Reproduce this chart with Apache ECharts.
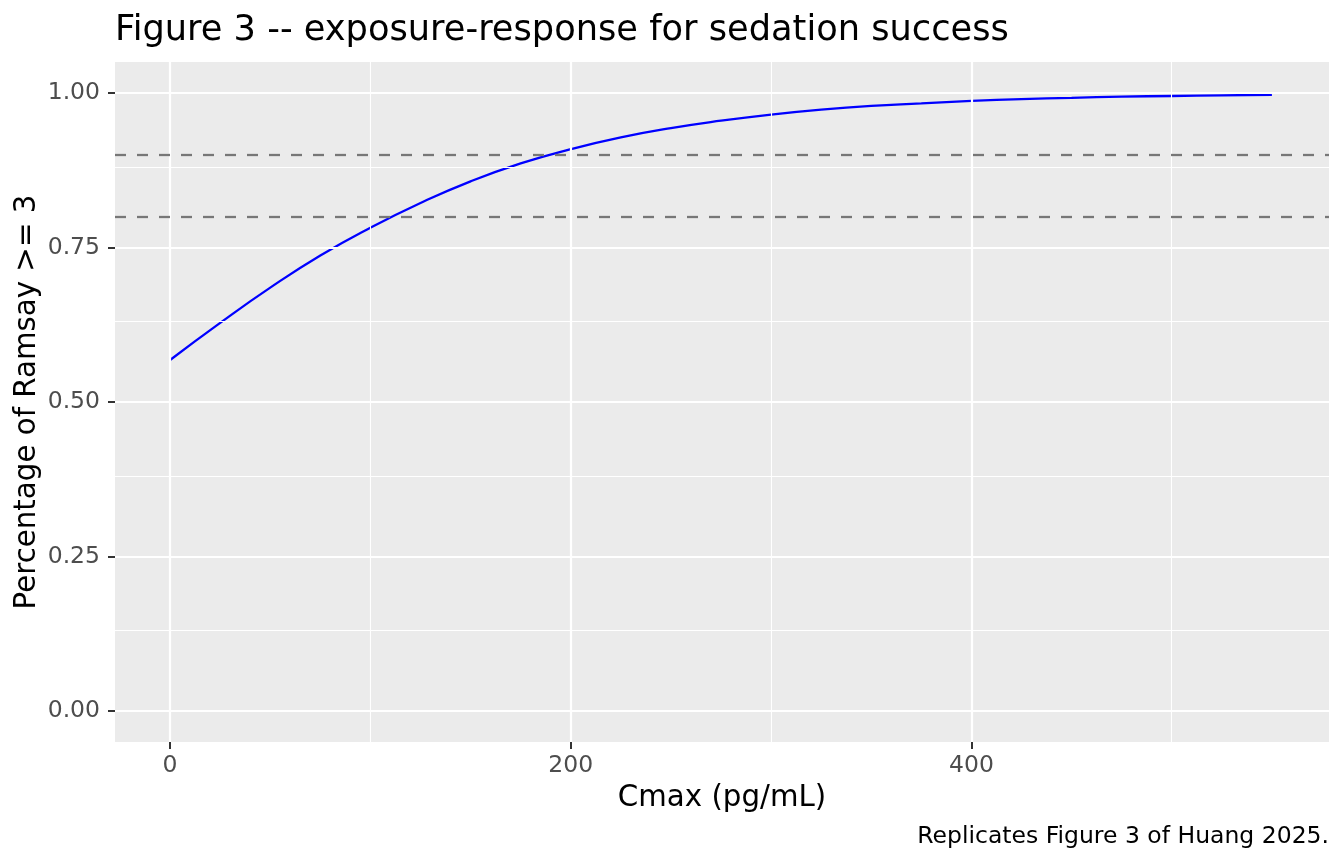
<!DOCTYPE html>
<html>
<head>
<meta charset="utf-8">
<script src="https://cdn.jsdelivr.net/npm/echarts@6/dist/echarts.min.js"></script>
<style>
html,body{margin:0;padding:0;background:#fff;}
#c{width:1344px;height:864px;}
</style>
</head>
<body>
<div id="c"></div>
<script>
// Data
var cmaxValues = [0, 25, 50, 75, 100, 125, 150, 175, 200, 225, 250, 275, 300, 325, 350, 375, 400, 425, 450, 475, 500, 525, 550];
var responseValues = [0.568, 0.628, 0.685, 0.737, 0.782, 0.822, 0.857, 0.886, 0.909, 0.928, 0.943, 0.955, 0.965, 0.973, 0.979, 0.983, 0.987, 0.990, 0.992, 0.994, 0.995, 0.996, 0.997];
var thresholdValues = [0.8, 0.9];
var xTickValues = [0, 200, 400];
var xMinorValues = [100, 300, 500];
var yTickValues = [0, 0.25, 0.5, 0.75, 1.0];
var yMinorValues = [0.125, 0.375, 0.625, 0.875];
var titleText = 'Figure 3 -- exposure-response for sedation success';
var xTitle = 'Cmax (pg/mL)';
var yTitle = 'Percentage of Ramsay >= 3';
var captionText = 'Replicates Figure 3 of Huang 2025.';

var FONT = 'DejaVu Sans';
var chart = echarts.init(document.getElementById('c'), null, {renderer: 'canvas'});

var curveData = cmaxValues.map(function (x, i) { return [x, responseValues[i]]; });

function gridMarks(xs, ys, width) {
  var d = [];
  xs.forEach(function (v) { d.push({xAxis: v}); });
  ys.forEach(function (v) { d.push({yAxis: v}); });
  return {
    silent: true, symbol: 'none', animation: false,
    label: {show: false},
    lineStyle: {color: '#FFFFFF', width: width, type: 'solid'},
    emphasis: {disabled: true},
    data: d
  };
}

var option = {
  backgroundColor: '#FFFFFF',
  animation: false,
  grid: {
    left: 115, right: 15, top: 62, bottom: 122,
    show: true, backgroundColor: '#EBEBEB', borderWidth: 0
  },
  xAxis: {
    type: 'value', min: -27.5, max: 578.5,
    axisLine: {show: true, onZero: false, lineStyle: {color: 'rgba(0,0,0,0)', width: 0}},
    axisTick: {show: true, customValues: xTickValues, length: 7, lineStyle: {color: '#333333', width: 2}},
    axisLabel: {customValues: xTickValues, color: '#4D4D4D', fontSize: 23.5, fontFamily: FONT, margin: 12},
    splitLine: {show: false}
  },
  yAxis: {
    type: 'value', min: -0.05, max: 1.05,
    axisLine: {show: true, onZero: false, lineStyle: {color: 'rgba(0,0,0,0)', width: 0}},
    axisTick: {show: true, customValues: yTickValues, length: 7, lineStyle: {color: '#333333', width: 2}},
    axisLabel: {customValues: yTickValues, color: '#4D4D4D', fontSize: 23.5, fontFamily: FONT, margin: 15,
      formatter: function (v) { return Number(v).toFixed(2); }},
    splitLine: {show: false}
  },
  graphic: [
    {type: 'text', x: 115, y: 30.5, silent: true,
      style: {text: titleText, fill: '#000000', font: '35.2px "DejaVu Sans"', align: 'left', verticalAlign: 'middle'}},
    {type: 'text', x: 722, y: 798, silent: true,
      style: {text: xTitle, fill: '#000000', font: '29.3px "DejaVu Sans"', align: 'center', verticalAlign: 'middle'}},
    {type: 'text', x: 27, y: 402, rotation: Math.PI / 2, silent: true,
      style: {text: yTitle, fill: '#000000', font: '29.3px "DejaVu Sans"', align: 'center', verticalAlign: 'middle'}},
    {type: 'text', x: 1329, y: 837, silent: true,
      style: {text: captionText, fill: '#000000', font: '23.5px "DejaVu Sans"', align: 'right', verticalAlign: 'middle'}}
  ],
  series: [
    {
      name: 'minorGrid', type: 'line', data: [[0, 0]], z: 1,
      showSymbol: false, symbolSize: 0, lineStyle: {opacity: 0}, silent: true,
      markLine: gridMarks(xMinorValues, yMinorValues, 1.1)
    },
    {
      name: 'majorGrid', type: 'line', data: [[0, 0]], z: 2,
      showSymbol: false, symbolSize: 0, lineStyle: {opacity: 0}, silent: true,
      markLine: gridMarks(xTickValues, yTickValues, 2.2)
    },
    {
      name: 'curve', type: 'line', data: curveData, z: 3,
      smooth: true, showSymbol: false, silent: true,
      lineStyle: {color: '#0000FF', width: 2.3}
    },
    {
      name: 'thresholds', type: 'line', data: [[0, 0]], z: 4,
      showSymbol: false, symbolSize: 0, lineStyle: {opacity: 0}, silent: true,
      markLine: {
        silent: true, symbol: 'none', animation: false, label: {show: false},
        lineStyle: {color: '#777777', width: 2.3, type: [11, 11]},
        emphasis: {disabled: true},
        data: thresholdValues.map(function (v) { return {yAxis: v}; })
      }
    }
  ]
};
chart.setOption(option);
</script>
</body>
</html>
